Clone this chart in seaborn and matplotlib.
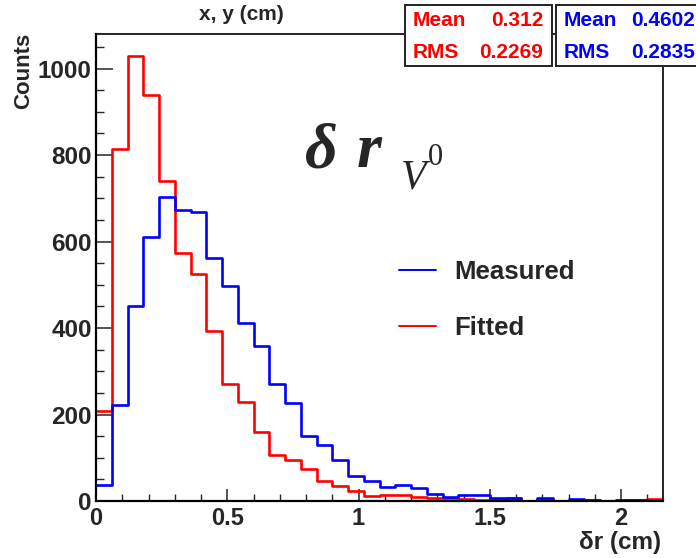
import numpy as np
import pandas as pd
import matplotlib
matplotlib.use("Agg")
import matplotlib.pyplot as plt
from matplotlib.ticker import MultipleLocator
from matplotlib.patches import Rectangle
import seaborn as sns

# Histogram binning: 36 bins of 0.06 cm from 0 to 2.16 cm
bin_edges = np.linspace(0.0, 2.16, 37)
bin_centers = 0.5 * (bin_edges[:-1] + bin_edges[1:])

# Counts per bin
measured_counts = [36, 222, 450, 611, 703, 672, 668, 562, 497, 411, 358, 270,
                   226, 150, 130, 94, 57, 46, 32, 36, 31, 17, 9, 13,
                   13, 6, 6, 1, 7, 1, 4, 3, 1, 3, 3, 0]
fitted_counts = [207, 815, 1029, 940, 741, 574, 524, 393, 270, 228, 160, 107,
                 95, 74, 46, 34, 22, 11, 15, 13, 9, 6, 6, 4,
                 3, 5, 6, 1, 2, 1, 3, 2, 1, 2, 2, 4]

series_names = ["Measured", "Fitted"]
series_colors = {"Measured": "#0000ff", "Fitted": "#ff0000"}

# Statistics box contents
stat_labels = ["Mean", "RMS"]
fitted_stats = ["0.312", "0.2269"]
measured_stats = ["0.4602", "0.2835"]

title_text = "x, y (cm)"
x_label = "\u03b4r (cm)"
y_label = "Counts"

df = pd.concat([
    pd.DataFrame({"dr": bin_centers, "count": measured_counts, "sample": "Measured"}),
    pd.DataFrame({"dr": bin_centers, "count": fitted_counts, "sample": "Fitted"}),
], ignore_index=True)

sns.set_style("ticks")
plt.rcParams["font.family"] = ["Liberation Sans", "DejaVu Sans"]

W, H = 696, 558
fig = plt.figure(figsize=(W / 100, H / 100), dpi=100)
ax = fig.add_axes([96 / W, 1 - 501 / H, (663 - 96) / W, (501 - 34) / H])

sns.histplot(data=df, x="dr", weights="count", hue="sample",
             hue_order=series_names, palette=series_colors,
             bins=list(bin_edges), element="step", fill=False,
             linewidth=1.9, ax=ax)

ax.set_xlim(0, 2.16)
ax.set_ylim(0, 1080)
ax.set_xlabel("")
ax.set_ylabel("")

for side in ["left", "bottom", "top", "right"]:
    ax.spines[side].set_visible(True)
    ax.spines[side].set_color("black")
ax.spines["left"].set_linewidth(1.6)
ax.spines["bottom"].set_linewidth(1.6)
ax.spines["top"].set_linewidth(1.2)
ax.spines["right"].set_linewidth(1.2)

ax.xaxis.set_major_locator(MultipleLocator(0.5))
ax.xaxis.set_minor_locator(MultipleLocator(0.1))
ax.yaxis.set_major_locator(MultipleLocator(200))
ax.yaxis.set_minor_locator(MultipleLocator(50))
ax.set_xticks([0, 0.5, 1, 1.5, 2])
ax.set_xticklabels(["0", "0.5", "1", "1.5", "2"])

ax.tick_params(axis="x", which="major", direction="in", length=9, width=1.1,
               labelsize=17, pad=4, top=False)
ax.tick_params(axis="x", which="minor", direction="in", length=5, width=1.0, top=False)
ax.tick_params(axis="y", which="major", direction="in", length=12, width=1.1,
               labelsize=17.5, pad=3, right=False)
ax.tick_params(axis="y", which="minor", direction="in", length=6, width=1.0, right=False)
for lab in ax.get_xticklabels() + ax.get_yticklabels():
    lab.set_fontweight("bold")

# Axis titles
fig.text(661 / W, 1 - 543 / H, x_label, ha="right", va="center",
         fontsize=17.5, fontweight="bold")
fig.text(24 / W, 1 - 33 / H, y_label, rotation=90, ha="center", va="top",
         fontsize=16, fontweight="bold")
fig.text(241 / W, 1 - 15 / H, title_text, ha="center", va="center",
         fontsize=15, fontweight="bold")

# Large formula annotation, set piece by piece in a Times-like italic
serif = ["Liberation Serif", "DejaVu Serif"]
fig.text(305 / W, 1 - 167 / H, "\u03b4", ha="left", va="baseline",
         fontsize=46, family=serif, style="italic", weight="bold")
fig.text(357 / W, 1 - 167 / H, "r", ha="left", va="baseline",
         fontsize=46, family=serif, style="italic", weight="bold")
fig.text(401 / W, 1 - 188 / H, "V", ha="left", va="baseline",
         fontsize=30, family=serif, style="italic")
fig.text(428 / W, 1 - 165 / H, "0", ha="left", va="baseline",
         fontsize=22, family=serif)

# Legend
sns.move_legend(ax, "center left", bbox_to_anchor=(386 / W, 1 - 300 / H),
                bbox_transform=fig.transFigure, title=None, frameon=False,
                borderpad=0, handlelength=1.45, handletextpad=0.72,
                labelspacing=1.22, prop={"weight": "bold", "size": 18.5})
for line in ax.get_legend().get_lines():
    line.set_linewidth(1.4)

# Statistics boxes
def stat_box(x0, x1, y0, y1, labels, values, color):
    rect = Rectangle((x0 / W, 1 - y1 / H), (x1 - x0) / W, (y1 - y0) / H,
                     transform=fig.transFigure, facecolor="white",
                     edgecolor="#222222", linewidth=1.4, zorder=5)
    fig.add_artist(rect)
    rows = [20, 52]
    out = []
    for lab, val, yy in zip(labels, values, rows):
        fig.text((x0 + 8) / W, 1 - yy / H, lab, ha="left", va="center",
                 color=color, fontsize=15, fontweight="bold", zorder=6)
        out.append(fig.text((x1 - 9) / W, 1 - yy / H, val, ha="right", va="center",
                            color=color, fontsize=15, fontweight="bold", zorder=6))
    return out

stat_box(405, 552, 5, 66, stat_labels, fitted_stats, "#ff0000")
for t in stat_box(556, 704, 5, 66, stat_labels, measured_stats, "#0000ff"):
    t.set_x(695 / W)

fig.savefig("out.png", dpi=100, facecolor="white")
